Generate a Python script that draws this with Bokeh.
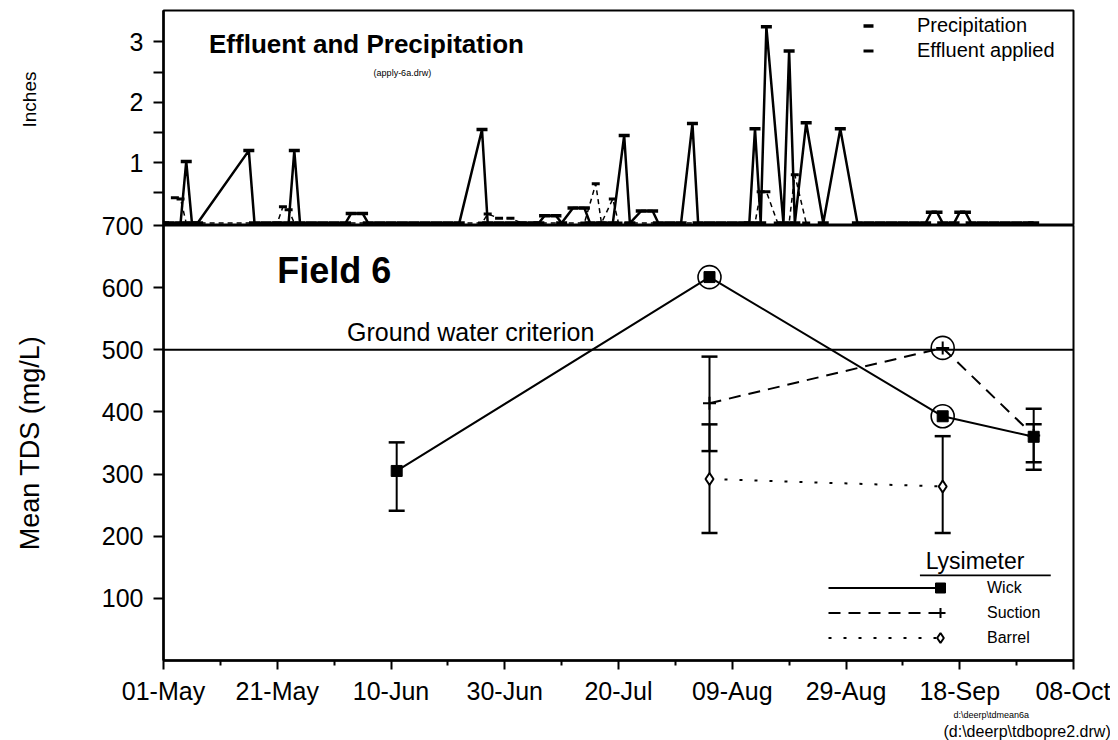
import pandas as pd
from bokeh.plotting import figure
from bokeh.layouts import column
from bokeh.models import (FixedTicker, DatetimeTickFormatter, Span, Label, Legend,
                          LegendItem, BoxAnnotation, Range1d, Title)
from bokeh.embed import file_html
from bokeh.resources import INLINE

YEAR = "1997"
FONT = "Liberation Sans"

# ---------------- top panel: daily inches ----------------
precip_dates = ["05-01", "05-02", "05-04", "05-05", "05-06", "05-07", "05-16", "05-17", "05-19",
                "05-21", "05-23", "05-24", "05-25", "05-27", "05-29", "05-31", "06-02", "06-03",
                "06-05", "06-06", "06-08", "06-10", "06-12", "06-14", "06-16", "06-18", "06-20",
                "06-22", "06-26", "06-27", "06-29", "07-01", "07-03", "07-05", "07-06", "07-07",
                "07-09", "07-10", "07-12", "07-14", "07-15", "07-17", "07-19", "07-21", "07-22",
                "07-24", "07-26", "07-27", "07-29", "07-31", "08-02", "08-03", "08-05", "08-07",
                "08-09", "08-11", "08-12", "08-13", "08-14", "08-15", "08-18", "08-19", "08-20",
                "08-22", "08-25", "08-28", "08-31", "09-02", "09-04", "09-06", "09-08", "09-10",
                "09-12", "09-13", "09-14", "09-15", "09-17", "09-18", "09-19", "09-20", "09-22",
                "09-24", "09-26", "09-28", "09-30", "10-01"]
precip_in = [0, 0, 0, 1.02, 0, 0, 1.2, 0, 0,
             0, 0, 1.2, 0, 0, 0, 0, 0, 0.16,
             0.16, 0, 0, 0, 0, 0, 0, 0, 0,
             0, 1.55, 0, 0, 0, 0, 0, 0, 0.12,
             0.12, 0, 0.25, 0.25, 0, 0, 0, 1.45, 0,
             0.2, 0.2, 0, 0, 0, 1.65, 0, 0, 0,
             0, 0, 0, 1.56, 0, 3.25, 0, 2.85, 0,
             1.66, 0, 1.56, 0, 0, 0, 0, 0, 0,
             0, 0.18, 0.18, 0, 0, 0.18, 0.18, 0, 0,
             0, 0, 0, 0, 0]

effluent_dates = ["05-03", "05-04", "05-05", "05-21", "05-22", "05-23", "05-24", "06-26", "06-27",
                  "06-29", "07-01", "07-03", "07-14", "07-16", "07-17", "07-19", "07-20", "08-13",
                  "08-14", "08-15", "08-17", "08-19", "08-20", "08-22"]
effluent_in = [0.42, 0.40, 0, 0, 0.27, 0.22, 0, 0, 0.15,
               0.08, 0.08, 0, 0, 0.65, 0, 0.40, 0, 0,
               0.52, 0.52, 0, 0, 0.80, 0]

# ---------------- bottom panel: mean TDS ----------------
tds_dates = ["06-11", "08-05", "09-15", "10-01"]
wick_tds = [305, 617, 393, 360]
wick_lo = [241, None, None, 307]
wick_hi = [351, None, None, 405]
wick_circled = [False, True, True, False]

suction_dates = ["08-05", "09-15", "10-01"]
suction_tds = [414, 503, 362]
suction_lo = [337, None, 319]
suction_hi = [489, None, 380]
suction_circled = [False, True, False]

barrel_dates = ["08-05", "09-15"]
barrel_tds = [292, 280]
barrel_lo = [205, 205]
barrel_hi = [380, 361]

criterion = 500

x_start, x_end = "05-01", "10-08"
tick_dates = ["05-01", "05-21", "06-10", "06-30", "07-20", "08-09", "08-29", "09-18", "10-08"]
tick_labels = ["01-May", "21-May", "10-Jun", "30-Jun", "20-Jul", "09-Aug", "29-Aug", "18-Sep", "08-Oct"]
minor_tick_dates = ["05-11", "05-31", "06-20", "07-10", "07-30", "08-19", "09-08", "09-28"]
inch_ticks = [1, 2, 3]
inch_minor = [0.5, 1.5, 2.5]
tds_ticks = [100, 200, 300, 400, 500, 600, 700]


def dt(md):
    return pd.Timestamp(f"{YEAR}-{md}")


def dts(lst):
    return [dt(s) for s in lst]


def ms(md):
    return int(dt(md).value // 10**6)


xr = Range1d(dt(x_start), dt(x_end))

# ---------------- top figure ----------------
p1 = figure(width=1110, height=225, x_range=xr, y_range=Range1d(-0.04, 3.52),
            x_axis_type="datetime", x_axis_location=None,
            output_backend="svg", toolbar_location=None,
            min_border_left=163, min_border_right=37, min_border_top=10, min_border_bottom=0)
p1.grid.visible = False
p1.outline_line_color = "black"
p1.outline_line_width = 2
p1.outline_line_alpha = 1

p1.line(dts(effluent_dates), effluent_in, line_color="black", line_width=1.5, line_dash="5 4")
eff_marks = p1.scatter(dts(effluent_dates), effluent_in, marker="dash", size=8,
                       line_color="black", line_width=3)
p1.line(dts(precip_dates), precip_in, line_color="black", line_width=2.5)
pre_marks = p1.scatter(dts(precip_dates), precip_in, marker="dash", size=11,
                       line_color="black", line_width=3.5)

ya = p1.yaxis[0]
ya.ticker = FixedTicker(ticks=inch_ticks, minor_ticks=inch_minor)
# leading no-break spaces lift the rotated label slightly above the panel centre
ya.axis_label = "\u00a0" * 7 + "Inches"
ya.axis_line_width = 2.5
ya.major_tick_line_width = 2
ya.minor_tick_line_width = 2
ya.major_tick_out = 10
ya.major_tick_in = 0
ya.minor_tick_out = 10
ya.minor_tick_in = 0
ya.major_label_standoff = 10
ya.major_label_text_font = FONT
ya.major_label_text_font_size = "25px"
ya.major_label_text_color = "black"
ya.axis_label_text_font = FONT
ya.axis_label_text_font_size = "19px"
ya.axis_label_text_font_style = "normal"
ya.axis_label_text_color = "black"
ya.axis_label_standoff = 87

legend_top = Legend(items=[LegendItem(label="Precipitation", renderers=[pre_marks]),
                           LegendItem(label="Effluent applied", renderers=[eff_marks])],
                    location=(690, 162), orientation="vertical",
                    glyph_width=30, glyph_height=25, label_height=25, spacing=0, padding=0,
                    margin=0, label_standoff=34,
                    label_text_font=FONT, label_text_font_size="20px",
                    label_text_color="black",
                    background_fill_alpha=0, border_line_alpha=0)
p1.add_layout(legend_top)

p1.add_layout(Label(x=dt("05-09"), y=2.97, text="Effluent and Precipitation",
                    text_font=FONT, text_font_size="26px", text_font_style="bold",
                    text_color="black", text_baseline="middle", text_align="left"))
p1.add_layout(Label(x=dt("06-12"), y=2.48, text="(apply-6a.drw)",
                    text_font=FONT, text_font_size="9px", text_color="black",
                    text_baseline="middle", text_align="center"))

# ---------------- bottom figure ----------------
p2 = figure(width=1110, height=529, x_range=xr, y_range=Range1d(0, 700),
            x_axis_type="datetime",
            output_backend="svg", toolbar_location=None,
            min_border_left=163, min_border_right=37, min_border_top=14, min_border_bottom=77)
p2.margin = (-14, 0, 0, 0)
p2.border_fill_alpha = 0
p2.grid.visible = False
p2.outline_line_color = "black"
p2.outline_line_width = 2
p2.outline_line_alpha = 1

p2.add_layout(Span(location=criterion, dimension="width", line_color="black", line_width=2))

wick_line = p2.line(dts(tds_dates), wick_tds, line_color="black", line_width=2)
suction_line = p2.line(dts(suction_dates), suction_tds, line_color="black", line_width=2,
                       line_dash="12 8")
barrel_line = p2.line(dts(barrel_dates), barrel_tds, line_color="black", line_width=2,
                      line_dash="3 12")


def error_bars(dates, lo, hi):
    keep = [(dt(d), a, b) for d, a, b in zip(dates, lo, hi) if a is not None and b is not None]
    xs = [k[0] for k in keep]
    los = [k[1] for k in keep]
    his = [k[2] for k in keep]
    p2.segment(x0=xs, y0=los, x1=xs, y1=his, line_color="black", line_width=2)
    p2.scatter(xs + xs, los + his, marker="dash", size=16, line_color="black", line_width=2.5)


error_bars(tds_dates, wick_lo, wick_hi)
error_bars(suction_dates, suction_lo, suction_hi)
error_bars(barrel_dates, barrel_lo, barrel_hi)

wick_marks = p2.scatter(dts(tds_dates), wick_tds, marker="square", size=11,
                        fill_color="black", line_color="black")
suction_marks = p2.scatter(dts(suction_dates), suction_tds, marker="cross", size=13,
                           line_color="black", line_width=2)
barrel_marks = p2.scatter(dts(barrel_dates), barrel_tds, marker="diamond", size=12,
                          fill_color="white", line_color="black", line_width=2)

circ_x = [dt(d) for d, c in zip(tds_dates, wick_circled) if c] + \
         [dt(d) for d, c in zip(suction_dates, suction_circled) if c]
circ_y = [v for v, c in zip(wick_tds, wick_circled) if c] + \
         [v for v, c in zip(suction_tds, suction_circled) if c]
p2.scatter(circ_x, circ_y, marker="circle", size=23, fill_color=None,
           line_color="black", line_width=1.6)

yb = p2.yaxis[0]
yb.ticker = FixedTicker(ticks=tds_ticks, minor_ticks=[])
yb.axis_label = "Mean TDS (mg/L)"
xb = p2.xaxis[0]
xb.ticker = FixedTicker(ticks=[ms(d) for d in tick_dates],
                        minor_ticks=[ms(d) for d in minor_tick_dates])
fmt = DatetimeTickFormatter(days="%d-%b", months="%d-%b", years="%d-%b", hours="%d-%b")
try:
    fmt.strip_leading_zeros = False
except Exception:
    pass
xb.formatter = fmt
xb.major_label_overrides = {ms(d): lab for d, lab in zip(tick_dates, tick_labels)}

for ax in (yb, xb):
    ax.axis_line_width = 2.5
    ax.major_tick_line_width = 2
    ax.minor_tick_line_width = 2
    ax.major_tick_in = 0
    ax.minor_tick_in = 0
    ax.major_label_text_font = FONT
    ax.major_label_text_font_size = "25px"
    ax.major_label_text_color = "black"
    ax.axis_label_text_font = FONT
    ax.axis_label_text_font_size = "27px"
    ax.axis_label_text_font_style = "normal"
    ax.axis_label_text_color = "black"
yb.major_tick_out = 10
yb.major_label_standoff = 10
yb.axis_label_standoff = 54
xb.major_tick_out = 9
xb.minor_tick_out = 5
xb.major_label_standoff = 7

legend_lines = Legend(items=[LegendItem(label="Wick", renderers=[wick_line]),
                             LegendItem(label="Suction", renderers=[suction_line]),
                             LegendItem(label="Barrel", renderers=[barrel_line])],
                      location=(665, 10), orientation="vertical",
                      glyph_width=117, glyph_height=25, label_height=25, spacing=0, padding=0,
                      margin=0, label_standoff=42,
                      label_text_font=FONT, label_text_font_size="16px",
                      label_text_color="black",
                      background_fill_alpha=0, border_line_alpha=0)
legend_marks = Legend(items=[LegendItem(label=" ", renderers=[wick_marks]),
                             LegendItem(label=" ", renderers=[suction_marks]),
                             LegendItem(label=" ", renderers=[barrel_marks])],
                      location=(763, 10), orientation="vertical",
                      glyph_width=28, glyph_height=25, label_height=25, spacing=0, padding=0,
                      margin=0, label_standoff=0,
                      label_text_font=FONT, label_text_font_size="16px",
                      background_fill_alpha=0, border_line_alpha=0)
p2.add_layout(legend_lines)
p2.add_layout(legend_marks)

p2.add_layout(Label(x=dt("09-12"), y=160, text="Lysimeter", text_font=FONT,
                    text_font_size="23px", text_color="black",
                    text_baseline="middle", text_align="left"))
p2.add_layout(BoxAnnotation(left=dt("09-11"), right=dt("10-04"), bottom=135.5, top=138.5,
                            fill_color="black", fill_alpha=1, line_alpha=0))

p2.add_layout(Label(x=dt("05-21"), y=627, text="Field 6", text_font=FONT,
                    text_font_size="36px", text_font_style="bold", text_color="black",
                    text_baseline="middle", text_align="left"))
p2.add_layout(Label(x=dt("06-24"), y=529, text="Ground water criterion",
                    text_font=FONT, text_font_size="25px", text_color="black",
                    text_baseline="middle", text_align="center"))

p2.add_layout(Title(text="d:\\deerp\\tdmean6a", align="left", offset=790,
                    text_font=FONT, text_font_size="9px", text_font_style="normal",
                    text_color="black", standoff=1), "below")
p2.add_layout(Title(text="(d:\\deerp\\tdbopre2.drw)", align="left", offset=780,
                    text_font=FONT, text_font_size="16px", text_font_style="normal",
                    text_color="black", standoff=1), "below")

layout = column(p1, p2, spacing=0)
open("out.html", "w").write(file_html(layout, INLINE))
